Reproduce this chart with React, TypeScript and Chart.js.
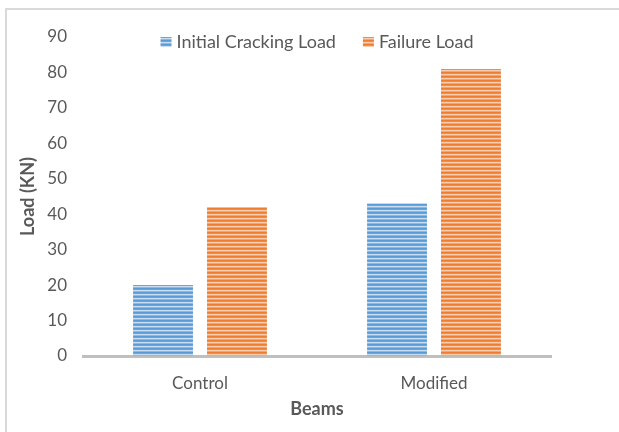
import React, { useEffect, useRef } from "react";
import { Chart, registerables } from "chart.js";

Chart.register(...registerables);

const categories = ["Control", "Modified"];
const seriesNames = ["Initial Cracking Load", "Failure Load"];
const initialCracking = [20, 43];
const failureLoad = [42, 81];
const yTicks = [0, 10, 20, 30, 40, 50, 60, 70, 80, 90];
const yTitle = "Load (KN)";
const xTitle = "Beams";

const blueRows = ["#5B9BD5", "#6AA5DA", "#C9DEF2", "#8CB9E3"];
const orangeRows = ["#ED7D31", "#EF8C48", "#F9CDAE", "#F3A670"];

const FONT = "Lato, 'Open Sans', sans-serif";
const TEXT = "#595959";

function makePattern(ctx: CanvasRenderingContext2D, rows: string[]) {
  const c = document.createElement("canvas");
  c.width = 4;
  c.height = rows.length;
  const cx = c.getContext("2d")!;
  rows.forEach((col, i) => {
    cx.fillStyle = col;
    cx.fillRect(0, i, 4, 1);
  });
  return ctx.createPattern(c, "repeat")!;
}

const legendPlugin = {
  id: "customLegend",
  afterDraw(chart: any) {
    const ctx: CanvasRenderingContext2D = chart.ctx;
    const area = chart.chartArea;
    ctx.save();
    ctx.font = `18px ${FONT}`;
    const box = 11;
    const gap = 5;
    const itemGap = 27;
    const items = chart.data.datasets.map((ds: any) => ({
      label: ds.label as string,
      color: ds.backgroundColor,
      w: ctx.measureText(ds.label).width,
    }));
    let total = 0;
    items.forEach((it: any, i: number) => {
      total += box + gap + it.w + (i < items.length - 1 ? itemGap : 0);
    });
    let x = (area.left + area.right) / 2 - total / 2;
    const y = 42;
    items.forEach((it: any) => {
      ctx.fillStyle = it.color;
      ctx.fillRect(x, y - 5, box, 10);
      x += box + gap;
      ctx.fillStyle = TEXT;
      ctx.textBaseline = "middle";
      ctx.textAlign = "left";
      ctx.fillText(it.label, x, y);
      x += it.w + itemGap;
    });
    ctx.restore();
  },
};

export default function App() {
  const canvasRef = useRef<HTMLCanvasElement>(null);

  useEffect(() => {
    document.body.style.margin = "0";
    const canvas = canvasRef.current!;
    const ctx = canvas.getContext("2d")!;
    const bluePat = makePattern(ctx, blueRows);
    const orangePat = makePattern(ctx, orangeRows);

    const chart = new Chart(canvas, {
      type: "bar",
      data: {
        labels: categories,
        datasets: [
          {
            label: seriesNames[0],
            data: initialCracking,
            backgroundColor: bluePat as any,
            borderWidth: 0,
            categoryPercentage: 0.632,
            barPercentage: 0.81,
          },
          {
            label: seriesNames[1],
            data: failureLoad,
            backgroundColor: orangePat as any,
            borderWidth: 0,
            categoryPercentage: 0.632,
            barPercentage: 0.81,
          },
        ],
      },
      options: {
        animation: false,
        responsive: true,
        maintainAspectRatio: false,
        layout: { padding: { left: 0, right: 68, top: 37, bottom: 0 } },
        plugins: {
          legend: { display: false },
          tooltip: { enabled: false },
        },
        scales: {
          x: {
            z: 1,
            grid: { display: false, drawTicks: false },
            border: { display: true, color: "#BFBFBF", width: 3 },
            ticks: {
              color: TEXT,
              font: { family: FONT, size: 17 },
              padding: 17,
            },
            title: {
              display: true,
              text: xTitle,
              color: TEXT,
              font: { family: FONT, size: 18, weight: "bold" },
              padding: { top: 0, bottom: 12 },
            },
            afterFit(s: any) {
              s.height = 76;
            },
          },
          y: {
            min: 0,
            max: 90,
            grid: { display: false, drawTicks: false },
            border: { display: false },
            ticks: {
              color: TEXT,
              font: { family: FONT, size: 17 },
              padding: 16,
            },
            afterBuildTicks(s: any) {
              s.ticks = yTicks.map((v) => ({ value: v }));
            },
            title: {
              display: true,
              text: yTitle,
              color: TEXT,
              font: { family: FONT, size: 18, weight: "bold" },
              padding: { top: 17, bottom: 0 },
            },
            afterFit(s: any) {
              s.width = 83;
            },
          },
        },
      },
      plugins: [legendPlugin],
    });
    return () => chart.destroy();
  }, []);

  return (
    <div style={{ position: "relative", width: 619, height: 432, background: "#fff" }}>
      <div
        style={{
          position: "absolute",
          left: 5,
          top: 8,
          right: 0,
          bottom: 0,
          borderTop: "2px solid #D9D9D9",
          borderLeft: "2px solid #D9D9D9",
          pointerEvents: "none",
        }}
      />
      <canvas ref={canvasRef} style={{ position: "relative" }} />
    </div>
  );
}
